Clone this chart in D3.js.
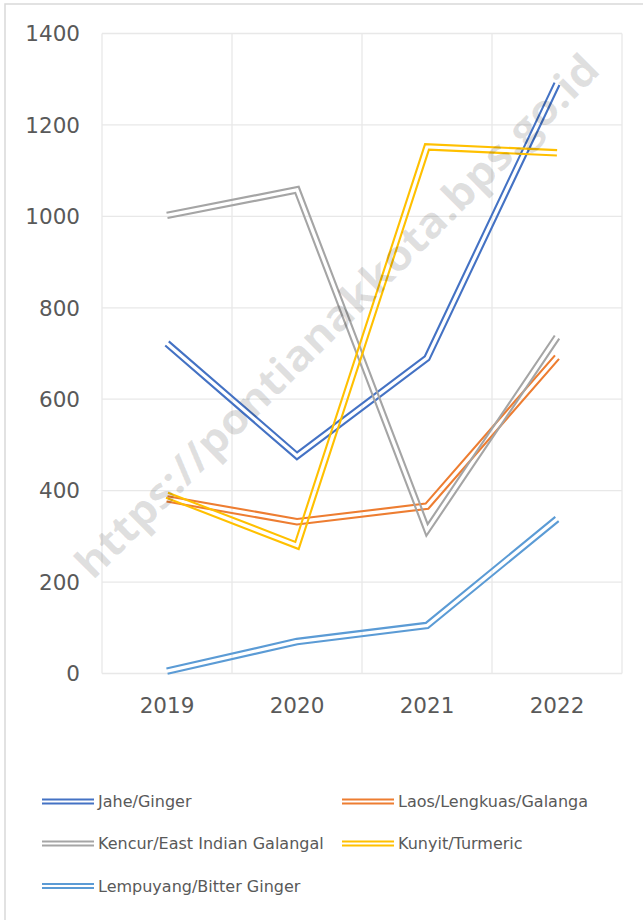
<!DOCTYPE html>
<html>
<head>
<meta charset="utf-8">
<script src="https://cdn.jsdelivr.net/npm/d3@7"></script>
<style>
  body { margin: 0; background: #fff; }
  svg { display: block; font-family: "DejaVu Sans", sans-serif; }
</style>
</head>
<body>
<svg id="chart"></svg>
<script>
/* ---------- data ---------- */
const years = ["2019", "2020", "2021", "2022"];
const seriesNames = ["Jahe/Ginger", "Laos/Lengkuas/Galanga", "Kencur/East Indian Galangal", "Kunyit/Turmeric", "Lempuyang/Bitter Ginger"];
const seriesColors = ["#4472C4", "#ED7D31", "#A5A5A5", "#FFC000", "#5B9BD5"];
const jahe      = [722, 476, 690, 1290];
const laos      = [382, 332, 366, 692];
const kencur    = [1002, 1058, 314, 736];
const kunyit    = [390, 280, 1152, 1139];
const lempuyang = [5, 70, 105, 338];
const yTicks = [0, 200, 400, 600, 800, 1000, 1200, 1400];

const allSeries = [jahe, laos, kencur, kunyit, lempuyang];

/* ---------- setup ---------- */
const width = 643, height = 920;
const plot = { left: 102, right: 622, top: 33.5, bottom: 673.5 };

const svg = d3.select("#chart").attr("width", width).attr("height", height);

// chart border
svg.append("rect")
  .attr("x", 5).attr("y", 4).attr("width", 660).attr("height", 940)
  .attr("fill", "#fff").attr("stroke", "#d9d9d9").attr("stroke-width", 1.5);

const x = d3.scaleBand().domain(years).range([plot.left, plot.right]);
const y = d3.scaleLinear().domain([0, 1400]).range([plot.bottom, plot.top]);

const gridLayer = svg.append("g");
const markLayer = svg.append("g");

// horizontal grid
gridLayer.selectAll("line.h").data(yTicks).enter().append("line")
  .attr("x1", plot.left).attr("x2", plot.right)
  .attr("y1", d => y(d)).attr("y2", d => y(d))
  .attr("stroke", "#e8e8e8").attr("stroke-width", 1.3);

// vertical grid (band boundaries)
const vBounds = years.map(d => x(d)).concat([plot.right]);
gridLayer.selectAll("line.v").data(vBounds).enter().append("line")
  .attr("x1", d => d).attr("x2", d => d)
  .attr("y1", plot.top).attr("y2", plot.bottom)
  .attr("stroke", "#e8e8e8").attr("stroke-width", 1.3);

// y labels
gridLayer.selectAll("text.yl").data(yTicks).enter().append("text")
  .attr("x", 80).attr("y", d => y(d)).attr("dy", "0.36em")
  .attr("text-anchor", "end").attr("font-size", 21.5).attr("fill", "#595959")
  .text(d => d);

// x labels
gridLayer.selectAll("text.xl").data(years).enter().append("text")
  .attr("x", d => x(d) + x.bandwidth() / 2).attr("y", 713)
  .attr("text-anchor", "middle").attr("font-size", 21.5).attr("fill", "#595959")
  .text(d => d);

// watermark
svg.append("text")
  .attr("transform", "translate(337,316) rotate(-45)")
  .attr("text-anchor", "middle").attr("dy", "0.35em")
  .attr("font-family", "'Open Sans', sans-serif")
  .attr("font-size", 42).attr("font-weight", "bold")
  .attr("fill", "#000").attr("fill-opacity", 0.12)
  .attr("textLength", 720).attr("lengthAdjust", "spacingAndGlyphs")
  .text("https://pontianakkota.bps.go.id");

/* ---------- double lines ---------- */
function offsetLine(pts, d) {
  const normals = [];
  for (let i = 0; i < pts.length - 1; i++) {
    const dx = pts[i + 1][0] - pts[i][0], dy = pts[i + 1][1] - pts[i][1];
    const len = Math.hypot(dx, dy);
    normals.push([-dy / len, dx / len]);
  }
  return pts.map((p, i) => {
    if (i === 0) return [p[0] + normals[0][0] * d, p[1] + normals[0][1] * d];
    if (i === pts.length - 1) {
      const n = normals[i - 1];
      return [p[0] + n[0] * d, p[1] + n[1] * d];
    }
    const a = normals[i - 1], b = normals[i];
    let mx = a[0] + b[0], my = a[1] + b[1];
    const ml = Math.hypot(mx, my);
    mx /= ml; my /= ml;
    const k = d / (mx * b[0] + my * b[1]);
    return [p[0] + mx * k, p[1] + my * k];
  });
}

const line = d3.line();

allSeries.forEach((vals, si) => {
  const pts = vals.map((v, i) => [x(years[i]) + x.bandwidth() / 2, y(v)]);
  [-2.7, 2.7].forEach(off => {
    markLayer.append("path")
      .attr("d", line(offsetLine(pts, off)))
      .attr("fill", "none")
      .attr("stroke", seriesColors[si])
      .attr("stroke-width", 2.1)
      .attr("stroke-linejoin", "miter");
  });
});

/* ---------- legend ---------- */
const legendPos = [[42, 801.5], [342, 801.5], [42, 843.5], [342, 843.5], [42, 886]];
const legend = svg.append("g");
seriesNames.forEach((name, i) => {
  const [lx, ly] = legendPos[i];
  const g = legend.append("g").attr("transform", `translate(${lx},${ly})`);
  [-2, 2].forEach(off => {
    g.append("line").attr("x1", 0).attr("x2", 52)
      .attr("y1", off).attr("y2", off)
      .attr("stroke", seriesColors[i]).attr("stroke-width", 2);
  });
  g.append("text").attr("x", 56).attr("y", 0).attr("dy", "0.35em")
    .attr("font-size", 16).attr("fill", "#595959")
    .text(name);
});
</script>
</body>
</html>
